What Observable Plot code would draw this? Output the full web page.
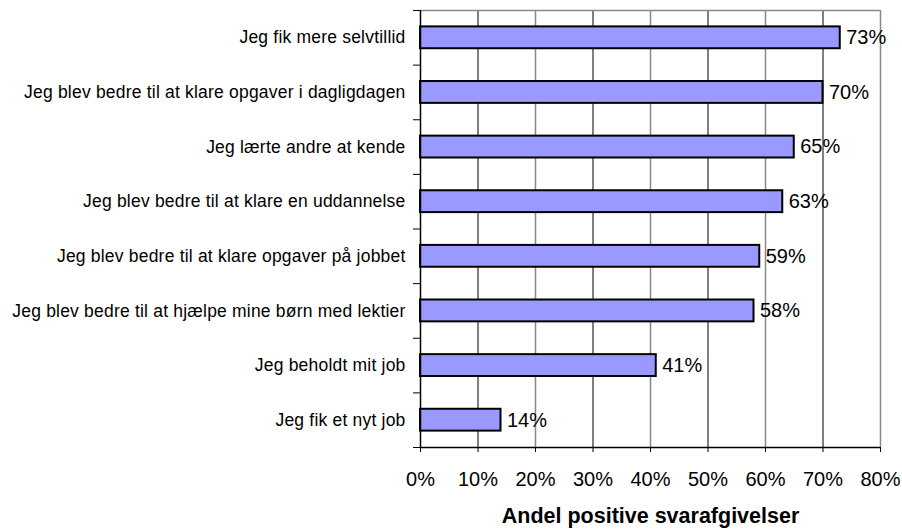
<!DOCTYPE html>
<html><head><meta charset="utf-8">
<script src="https://cdn.jsdelivr.net/npm/d3@7"></script>
<script src="https://cdn.jsdelivr.net/npm/@observablehq/plot@0.6"></script>
<style>body{margin:0;background:#fff;font-family:"Liberation Sans",Arial,sans-serif;}</style>
</head><body><div id="chart"></div>
<script>
const categories = [
  "Jeg fik mere selvtillid",
  "Jeg blev bedre til at klare opgaver i dagligdagen",
  "Jeg lærte andre at kende",
  "Jeg blev bedre til at klare en uddannelse",
  "Jeg blev bedre til at klare opgaver på jobbet",
  "Jeg blev bedre til at hjælpe mine børn med lektier",
  "Jeg beholdt mit job",
  "Jeg fik et nyt job"
];
const values = [73, 70, 65, 63, 59, 58, 41, 14];
const xTicks = [0, 10, 20, 30, 40, 50, 60, 70, 80];
const axisTitle = "Andel positive svarafgivelser";

const data = categories.map((c, i) => ({cat: c, i, v: values[i]}));
const bounds = d3.range(categories.length + 1);

const plot = Plot.plot({
  width: 902, height: 529,
  marginLeft: 420, marginRight: 22, marginTop: 10, marginBottom: 82,
  style: {fontFamily: "'Liberation Sans', Arial, sans-serif", background: "#fff"},
  x: {domain: [0, 80]},
  y: {domain: [0, categories.length], reverse: true},
  marks: [
    Plot.ruleX(xTicks.slice(1), {x: d => d, stroke: (d) => d % 20 === 0 ? "#888" : "#000", strokeWidth: d => d % 20 === 0 ? 1.5 : 1}),
    Plot.ruleY([0], {stroke: "#888", strokeWidth: 1.5}),
    Plot.rectX(data, {x1: 0, x2: "v", y1: d => d.i + 0.3, y2: d => d.i + 0.7, fill: "#9999FF", stroke: "#000", strokeWidth: 2}),
    Plot.text(data, {x: "v", y: d => d.i + 0.5, text: d => d.v + "%", textAnchor: "start", dx: 6, fontSize: 20, fill: "#000"}),
    Plot.text(data, {x: 0, y: d => d.i + 0.5, text: "cat", textAnchor: "end", dx: -15, fontSize: 17.5, fill: "#000"}),
    Plot.axisY({ticks: bounds, tickFormat: () => "", tickSize: 7, stroke: "#000", label: null}),
    Plot.axisX({ticks: xTicks, tickFormat: d => d + "%", tickSize: 5, tickPadding: 19, fontSize: 20, label: null, fill: "#000"}),
    Plot.ruleX([0], {stroke: "#000", strokeWidth: 1.5}),
    Plot.ruleY([categories.length], {stroke: "#000", strokeWidth: 1.5}),
    Plot.text([axisTitle], {frameAnchor: "bottom", lineAnchor: "bottom", dy: 75, fontSize: 21.5, fontWeight: "bold", fill: "#000"})
  ]
});
d3.select(plot).selectAll("text")
  .filter(function() { return categories.includes(this.textContent); })
  .attr("letter-spacing", 0.2);
document.getElementById("chart").appendChild(plot);
</script></body></html>
